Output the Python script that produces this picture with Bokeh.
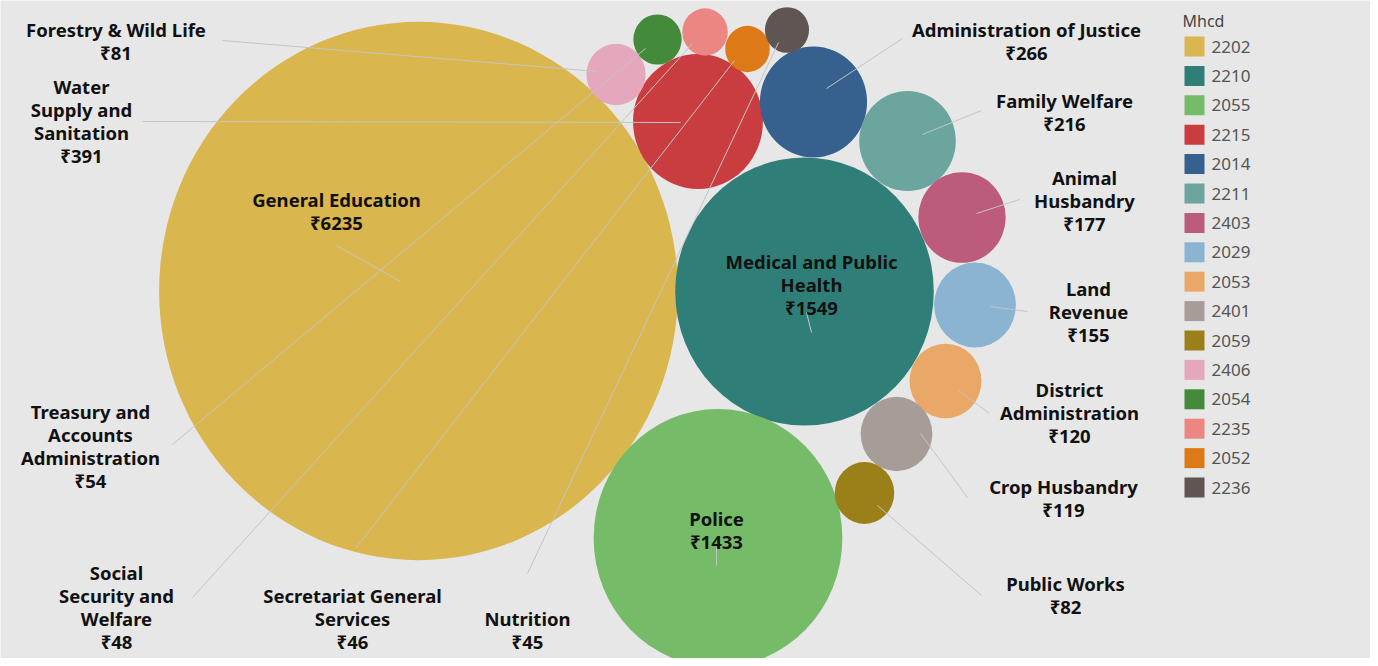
import numpy as np
from bokeh.plotting import figure
from bokeh.models import Range1d, ColumnDataSource
from bokeh.core.properties import value
from bokeh.embed import file_html
from bokeh.resources import INLINE

# ---------------- data ----------------
codes = ["2202", "2210", "2055", "2215", "2014", "2211", "2403", "2029",
         "2053", "2401", "2059", "2406", "2054", "2235", "2052", "2236"]
names = ["General Education", "Medical and Public\nHealth", "Police",
         "Water\nSupply and\nSanitation", "Administration of Justice",
         "Family Welfare", "Animal\nHusbandry", "Land\nRevenue",
         "District\nAdministration", "Crop Husbandry", "Public Works",
         "Forestry & Wild Life", "Treasury and\nAccounts\nAdministration",
         "Social\nSecurity and\nWelfare", "Secretariat General\nServices",
         "Nutrition"]
amounts = [6235, 1549, 1433, 391, 266, 216, 177, 155,
           120, 119, 82, 81, 54, 48, 46, 45]
colors = ["#dab64e", "#2f7f78", "#76bb68", "#c93d40", "#36608e", "#6ca59d",
          "#bd5b7c", "#8bb4d3", "#eaa868", "#a69d98", "#9b801a", "#e4a7bc",
          "#438a3a", "#eb8682", "#de7918", "#5f5653"]

# ---------------- layout (packed bubble positions, label anchors) ----------------
bub_x = [418, 804, 717.5, 697.5, 813, 907, 961.5, 974.5,
         945, 896, 864, 615.5, 657, 704.5, 747, 786.5]
bub_y = [290.5, 291, 537.5, 121, 101.5, 140.5, 217, 304.5,
         380.5, 433.5, 492.5, 74, 39, 31.5, 48.5, 29.5]
lab_x = [336, 811, 716, 81, 1026, 1064, 1084, 1088,
         1069, 1063, 1065, 115.5, 90, 116, 352, 527]
lab_y = [210, 283.5, 529.5, 120.5, 40, 111, 199.5, 310.5,
         411.5, 497, 594, 40, 445, 606, 618, 629.5]
# leader lines: label-side point -> bubble-side point
ln_x0 = [336, 806, 716, 142, 902, 981, 1019, 1027, 989, 967, 981, 222, 172, 192, 355, 527]
ln_y0 = [245, 312, 547, 121, 38, 110, 199, 311, 413, 497, 595, 40, 444, 597, 548, 573]
ln_x1 = [400, 811, 716, 680, 826, 922, 976, 990, 958, 920, 877, 597, 645, 692, 734, 778]
ln_y1 = [281, 332, 565, 122, 88, 134, 213, 306, 390, 433, 505, 71, 48, 43, 60, 42]

KX, KY = 3.285, 3.41   # px per sqrt(value) in x / y

amt = np.array(amounts, dtype=float)
src = ColumnDataSource(dict(
    x=bub_x, y=bub_y,
    w=2 * KX * np.sqrt(amt), h=2 * KY * np.sqrt(amt),
    color=colors,
))
lab_src = ColumnDataSource(dict(
    x=lab_x, y=lab_y,
    text=[f"{n}\n₹{a}" for n, a in zip(names, amounts)],
))
ln_src = ColumnDataSource(dict(x0=ln_x0, y0=ln_y0, x1=ln_x1, y1=ln_y1))

BG = "#e7e7e7"
p = figure(width=1370, height=658,
           x_range=Range1d(0, 1370), y_range=Range1d(658, 0),
           output_backend="svg", toolbar_location=None,
           x_axis_location=None, y_axis_location=None,
           min_border=0, background_fill_color=BG, border_fill_color=BG)
p.grid.visible = False
p.outline_line_color = None

p.ellipse(x="x", y="y", width="w", height="h", fill_color="color",
          line_color=None, source=src)
p.segment(x0="x0", y0="y0", x1="x1", y1="y1", line_color="#c4c4c4",
          line_width=1, source=ln_src)
p.text(x="x", y="y", text="text", source=lab_src,
       text_align="center", text_baseline="middle",
       text_font=value("Noto Sans"), text_font_style="bold",
       text_font_size="18.5px", text_line_height=0.92, text_color="#111111")

# ---------------- legend ----------------
leg_y0, leg_step = 46, 29.4
leg_y = [leg_y0 + leg_step * i for i in range(len(codes))]
leg_src = ColumnDataSource(dict(x=[1194] * len(codes), y=leg_y, color=colors,
                                tx=[1211] * len(codes), text=codes))
p.rect(x="x", y="y", width=20, height=20, fill_color="color",
       line_color=None, source=leg_src)
p.text(x="tx", y="y", text="text", source=leg_src, text_align="left",
       text_baseline="middle", text_font=value("Noto Sans"),
       text_font_size="17px", text_color="#555555")
p.text(x=[1182], y=[20], text=["Mhcd"], text_align="left",
       text_baseline="middle", text_font=value("Noto Sans"),
       text_font_size="16px", text_color="#444444")

open("out.html", "w").write(file_html(p, INLINE))
